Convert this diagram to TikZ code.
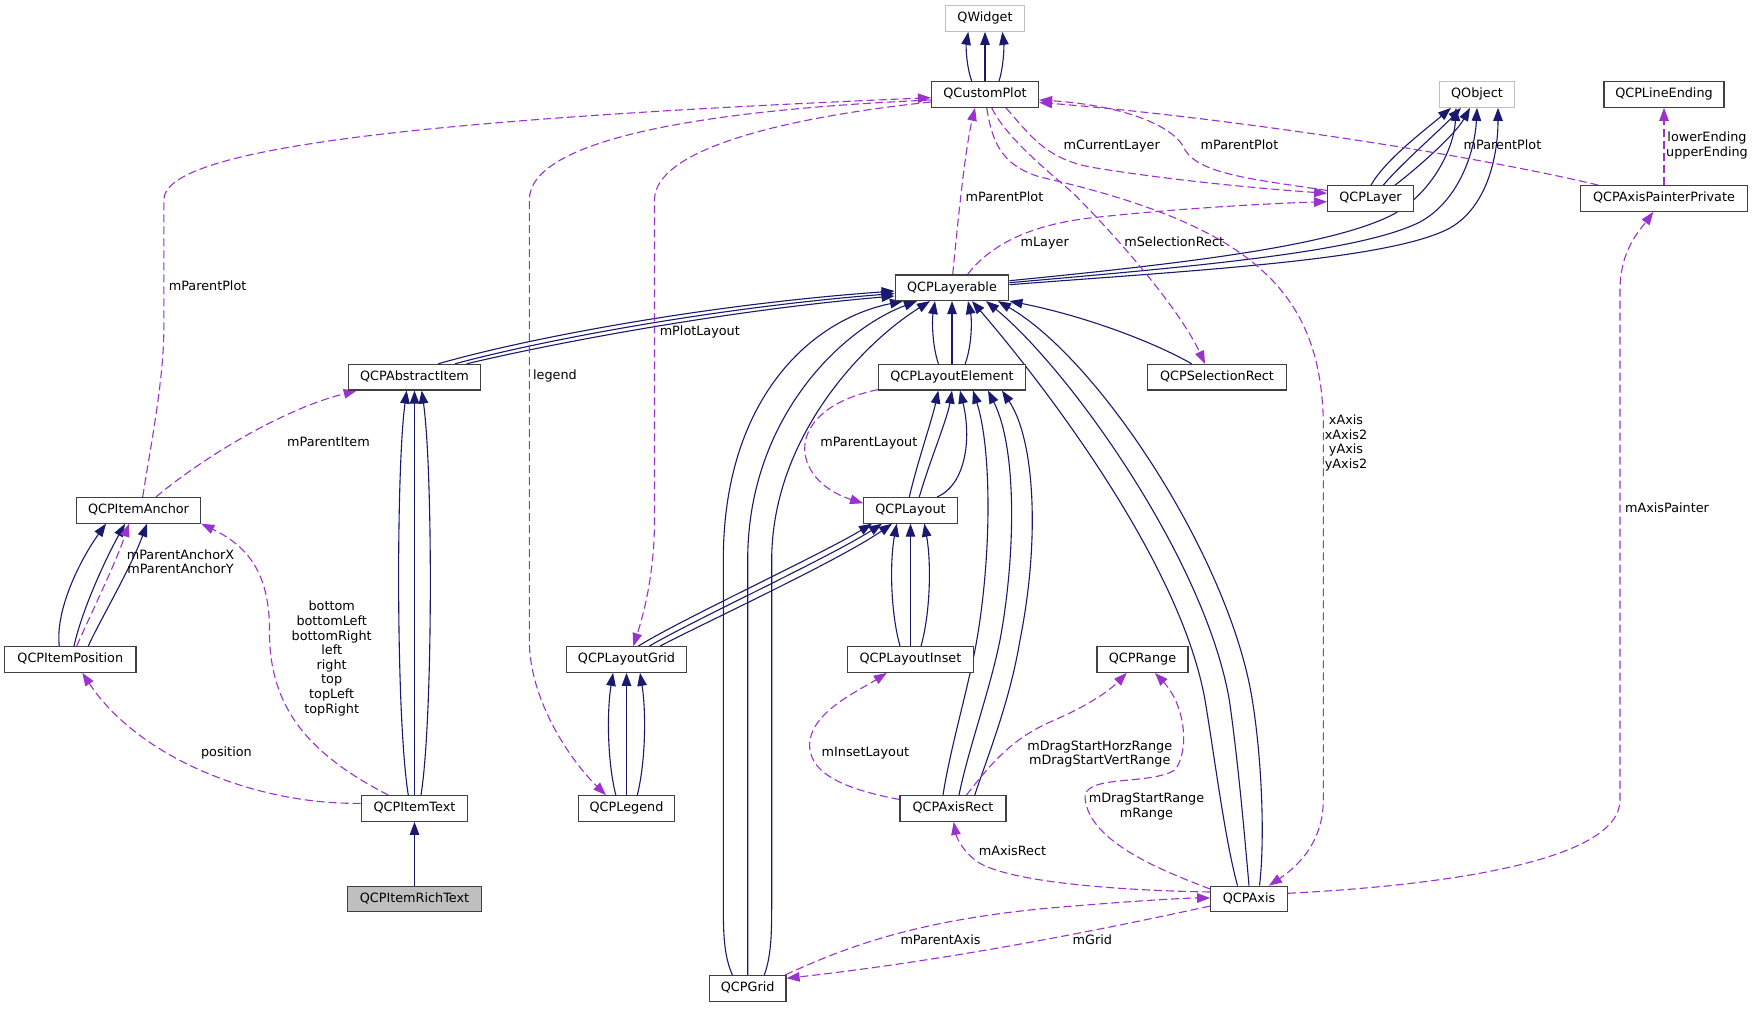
\documentclass[tikz,border=0pt]{standalone}
\usepackage{fontspec}
\setmainfont{DejaVu Sans}
\usetikzlibrary{arrows.meta,calc}
\definecolor{navyline}{HTML}{191970}
\definecolor{orchid}{HTML}{9A32CD}
\definecolor{greyborder}{HTML}{BFBFBF}
\definecolor{greyfill}{HTML}{BFBFBF}
\pgfdeclarelayer{bg}
\pgfsetlayers{bg,main}
\tikzset{
  cls/.style={draw=black!75, line width=1.2pt, fill=white, inner xsep=0pt, inner ysep=0pt,
    minimum height=25.6pt, text height=9.6pt, text depth=3pt,
    font=\fontsize{12.8}{14.6}\selectfont},
  extcls/.style={cls, draw=greyborder},
  inh/.style={draw=navyline, line width=1.1pt, -{Triangle[length=13pt,width=9.5pt]}},
  uses/.style={draw=orchid, line width=1.1pt, dash pattern=on 8pt off 4pt,
    -{Triangle[length=13pt,width=9.5pt]}},
  lbl/.style={inner sep=0pt, text height=9.6pt, text depth=3pt, font=\fontsize{12.8}{14.6}\selectfont},
  mlbl/.style={inner sep=0pt, align=center, font=\fontsize{12.8}{14.6}\selectfont}
}
\begin{document}
\begin{tikzpicture}[x=1pt,y=-1pt]
\useasboundingbox (0,0) rectangle (1755,1009);
% nodes
\node[extcls, minimum width=79pt] (qwidget) at (985,18.5) {QWidget};
\node[cls, minimum width=107pt] (qcustomplot) at (985,94.5) {QCustomPlot};
\node[extcls, minimum width=75pt] (qobject) at (1477,94.5) {QObject};
\node[cls, minimum width=120pt] (qcplineending) at (1664,94.5) {QCPLineEnding};
\node[cls, minimum width=85.7pt] (qcplayer) at (1370.5,198.5) {QCPLayer};
\node[cls, minimum width=167pt] (qcpaxispainter) at (1664,198.5) {QCPAxisPainterPrivate};
\node[cls, minimum width=113.7pt] (qcplayerable) at (952,287.7) {QCPLayerable};
\node[cls, minimum width=132.4pt] (qcpabstractitem) at (414.5,377.2) {QCPAbstractItem};
\node[cls, minimum width=146.7pt] (qcplayoutelement) at (952,377.2) {QCPLayoutElement};
\node[cls, minimum width=139pt] (qcpselectionrect) at (1217,377.2) {QCPSelectionRect};
\node[cls, minimum width=124.4pt] (qcpitemanchor) at (138.5,510.3) {QCPItemAnchor};
\node[cls, minimum width=93.6pt] (qcplayout) at (910.5,510.3) {QCPLayout};
\node[cls, minimum width=131.3pt] (qcpitemposition) at (70.3,659.5) {QCPItemPosition};
\node[cls, minimum width=120.4pt] (qcplayoutgrid) at (626.5,659.5) {QCPLayoutGrid};
\node[cls, minimum width=125.6pt] (qcplayoutinset) at (910.5,659.5) {QCPLayoutInset};
\node[cls, minimum width=91pt] (qcprange) at (1142.5,659.5) {QCPRange};
\node[cls, minimum width=106.5pt] (qcpitemtext) at (414.5,808.5) {QCPItemText};
\node[cls, minimum width=95.7pt] (qcplegend) at (626.5,808.5) {QCPLegend};
\node[cls, minimum width=106pt] (qcpaxisrect) at (953,808.5) {QCPAxisRect};
\node[cls, minimum width=134.6pt, fill=greyfill] (qcpitemrichtext) at (414.5,899) {QCPItemRichText};
\node[cls, minimum width=76.5pt] (qcpaxis) at (1249,899) {QCPAxis};
\node[cls, minimum width=76.6pt] (qcpgrid) at (747.7,988.3) {QCPGrid};

\begin{pgfonlayer}{bg}
\fill[white] (0,0) rectangle (1755,1009);
% ---------- inheritance ----------
% QCustomPlot -> QWidget
\draw[inh] ($(qcustomplot.north)+(-13.3,0)$) .. controls (966,65) and (966,45) .. ($(qwidget.south)+(-16.7,0)$);
\draw[inh] (qcustomplot.north) -- (qwidget.south);
\draw[inh] ($(qcustomplot.north)+(14,0)$) .. controls (1004,65) and (1004,45) .. ($(qwidget.south)+(17.3,0)$);
% QCPLayer -> QObject
\draw[inh] ($(qcplayer.north)+(0.5,0)$) .. controls (1385,160) and (1425,130) .. ($(qobject.south)+(-26,0)$);
\draw[inh] ($(qcplayer.north)+(12.8,0)$) .. controls (1400,165) and (1440,130) .. ($(qobject.south)+(-16,0)$);
\draw[inh] ($(qcplayer.north)+(24.5,0)$) .. controls (1415,170) and (1455,135) .. ($(qobject.south)+(-7,0)$);
% QCPLayerable -> QObject
\draw[inh] ($(qcplayerable.east)+(0,-7)$) .. controls (1200,262) and (1330,245) .. (1390,216) .. controls (1430,196) and (1454,150) .. ($(qobject.south)+(-21,0)$);
\draw[inh] ($(qcplayerable.east)+(0,-5)$) .. controls (1200,266) and (1360,252) .. (1420,222) .. controls (1460,200) and (1475,150) .. (qobject.south);
\draw[inh] ($(qcplayerable.east)+(0,-3)$) .. controls (1200,270) and (1390,260) .. (1450,228) .. controls (1490,205) and (1498,150) .. ($(qobject.south)+(21,0)$);
% QCPAbstractItem -> QCPLayerable
\draw[inh] ($(qcpabstractitem.north)+(23.8,0)$) .. controls (520,340) and (700,305) .. ($(qcplayerable.west)+(0,3.3)$);
\draw[inh] ($(qcpabstractitem.north)+(40.5,0)$) .. controls (535,342) and (710,308) .. ($(qcplayerable.west)+(0,5.8)$);
\draw[inh] ($(qcpabstractitem.north)+(52.2,0)$) .. controls (545,345) and (720,311) .. ($(qcplayerable.west)+(0,8.3)$);
% QCPLayoutElement -> QCPLayerable
\draw[inh] ($(qcplayoutelement.north)+(-13.6,0)$) .. controls (932,345) and (932,320) .. ($(qcplayerable.south)+(-17,0)$);
\draw[inh] (qcplayoutelement.north) -- (qcplayerable.south);
\draw[inh] ($(qcplayoutelement.north)+(13.2,0)$) .. controls (972,345) and (972,320) .. ($(qcplayerable.south)+(16,0)$);
% QCPSelectionRect -> QCPLayerable
\draw[inh] ($(qcpselectionrect.north)+(-25.3,0)$) .. controls (1150,340) and (1080,315) .. (qcplayerable.south east);
% QCPGrid -> QCPLayerable
\draw[inh] ($(qcpgrid.north)+(-15.3,0)$) .. controls (723.3,955) and (723.3,930) .. (723.3,900) -- (723.3,560) .. controls (723.3,400) and (810,320) .. ($(qcplayerable.south)+(-49,0)$);
\draw[inh] (qcpgrid.north) -- (747.7,560) .. controls (747.7,420) and (840,330) .. ($(qcplayerable.south)+(-35,0)$);
\draw[inh] ($(qcpgrid.north)+(16.6,0)$) .. controls (771.7,955) and (771.7,930) .. (771.7,900) -- (771.7,560) .. controls (771.7,440) and (860,345) .. ($(qcplayerable.south)+(-22,0)$);
% QCPAxis -> QCPLayerable
\draw[inh] ($(qcpaxis.north)+(-11.5,0)$) .. controls (1225,840) and (1215,760) .. (1205,700) .. controls (1180,560) and (1040,380) .. ($(qcplayerable.south)+(20,0)$);
\draw[inh] (qcpaxis.north) .. controls (1245,840) and (1238,760) .. (1229.3,700) .. controls (1205,560) and (1070,370) .. ($(qcplayerable.south)+(34,0)$);
\draw[inh] ($(qcpaxis.north)+(10.5,0)$) .. controls (1265,840) and (1262,760) .. (1252.3,700) .. controls (1230,560) and (1100,360) .. ($(qcplayerable.south)+(46,0)$);
% QCPLayout -> QCPLayoutElement
\draw[inh] ($(qcplayout.north)+(-1.2,0)$) .. controls (918,460) and (932,420) .. ($(qcplayoutelement.south)+(-13.7,0)$);
\draw[inh] ($(qcplayout.north)+(8.8,0)$) .. controls (930,460) and (947,420) .. (qcplayoutelement.south);
\draw[inh] ($(qcplayout.north)+(26.8,0)$) .. controls (965,485) and (972,440) .. ($(qcplayoutelement.south)+(8,0)$);
% QCPAxisRect -> QCPLayoutElement
\draw[inh] ($(qcpaxisrect.north)+(-10,0)$) .. controls (950,750) and (965,700) .. (975,650) .. controls (992,560) and (992,450) .. ($(qcplayoutelement.south)+(21,0)$);
\draw[inh] ($(qcpaxisrect.north)+(6,0)$) .. controls (968,750) and (990,690) .. (1000,640) .. controls (1015,560) and (1018,450) .. ($(qcplayoutelement.south)+(36,0)$);
\draw[inh] ($(qcpaxisrect.north)+(21.7,0)$) .. controls (990,750) and (1010,700) .. (1020,640) .. controls (1040,540) and (1035,440) .. ($(qcplayoutelement.south)+(50,0)$);
% QCPLayoutGrid -> QCPLayout
\draw[inh] ($(qcplayoutgrid.north)+(11.8,0)$) .. controls (680,620) and (820,555) .. ($(qcplayout.south)+(-38.5,0)$);
\draw[inh] ($(qcplayoutgrid.north)+(22.8,0)$) .. controls (690,622) and (830,557) .. ($(qcplayout.south)+(-28.5,0)$);
\draw[inh] ($(qcplayoutgrid.north)+(33.5,0)$) .. controls (700,625) and (840,560) .. ($(qcplayout.south)+(-18.5,0)$);
% QCPLayoutInset -> QCPLayout
\draw[inh] ($(qcplayoutinset.north)+(-10.5,0)$) .. controls (890,610) and (890,560) .. ($(qcplayout.south)+(-13.8,0)$);
\draw[inh] (qcplayoutinset.north) -- (qcplayout.south);
\draw[inh] ($(qcplayoutinset.north)+(10.5,0)$) .. controls (931,610) and (931,560) .. ($(qcplayout.south)+(13.8,0)$);
% QCPLegend -> QCPLayoutGrid
\draw[inh] ($(qcplegend.north)+(-10.7,0)$) .. controls (607,760) and (607,710) .. ($(qcplayoutgrid.south)+(-13.4,0)$);
\draw[inh] (qcplegend.north) -- (qcplayoutgrid.south);
\draw[inh] ($(qcplegend.north)+(10.8,0)$) .. controls (646,760) and (646,710) .. ($(qcplayoutgrid.south)+(13.5,0)$);
% QCPItemText -> QCPAbstractItem
\draw[inh] ($(qcpitemtext.north)+(-6.2,0)$) .. controls (396,720) and (396,470) .. ($(qcpabstractitem.south)+(-7.8,0)$);
\draw[inh] (qcpitemtext.north) -- (qcpabstractitem.south);
\draw[inh] ($(qcpitemtext.north)+(6.5,0)$) .. controls (433,720) and (433,470) .. ($(qcpabstractitem.south)+(7.2,0)$);
% QCPItemRichText -> QCPItemText
\draw[inh] (qcpitemrichtext.north) -- (qcpitemtext.south);
% QCPItemPosition -> QCPItemAnchor
\draw[inh] ($(qcpitemposition.north)+(-11,0)$) .. controls (55,610) and (80,560) .. ($(qcpitemanchor.south)+(-32.5,0)$);
\draw[inh] ($(qcpitemposition.north)+(3.7,0)$) .. controls (82,610) and (105,560) .. ($(qcpitemanchor.south)+(-13.5,0)$);
\draw[inh] ($(qcpitemposition.north)+(18,0)$) .. controls (100,620) and (130,570) .. ($(qcpitemanchor.south)+(8.5,0)$);

% ---------- usage ----------
\draw[uses] ($(qcpitemposition.north)+(6.4,0)$) .. controls (88,620) and (115,565) .. ($(qcpitemanchor.south)+(-9.5,0)$);
\draw[uses] ($(qcpitemanchor.north)+(4.2,0)$) .. controls (150,450) and (163.8,380) .. (163.8,330) -- (163.8,200) .. controls (163.8,150) and (400,120) .. ($(qcustomplot.west)+(0,3.2)$);
\draw[uses] ($(qcpitemanchor.north)+(17.5,0)$) .. controls (200,460) and (280,410) .. ($(qcpabstractitem.south)+(-57.8,0)$);
\draw[uses] ($(qcpitemtext.west)+(0,-5.2)$) .. controls (260,805) and (140,760) .. ($(qcpitemposition.south)+(12,0)$);
\draw[uses] ($(qcpitemtext.north)+(-26.1,0)$) .. controls (300,750) and (269,700) .. (269.5,630) .. controls (269.5,570) and (245,545) .. (qcpitemanchor.south east);
\draw[uses] ($(qcustomplot.west)+(0,5.5)$) .. controls (700,110) and (529.3,140) .. (529.3,200) -- (529.3,640) .. controls (529.3,700) and (570,760) .. ($(qcplegend.north)+(-20.5,0)$);
\draw[uses] ($(qcustomplot.west)+(0,7.5)$) .. controls (780,118) and (654.5,150) .. (654.5,200) -- (654.5,520) .. controls (654.5,570) and (645,610) .. ($(qcplayoutgrid.north)+(6.8,0)$);
\draw[uses] ($(qcplayerable.north)+(0.7,0)$) .. controls (958,220) and (965,150) .. ($(qcustomplot.south)+(-10,0)$);
\draw[uses] ($(qcplayerable.north)+(15.7,0)$) .. controls (990,245) and (1030,225) .. (1090,218) .. controls (1180,208) and (1280,203) .. ($(qcplayer.west)+(0,3.2)$);
\draw[uses] ($(qcustomplot.south)+(21,0)$) .. controls (1030,135) and (1045,158) .. (1090,167) .. controls (1180,182) and (1280,190) .. ($(qcplayer.west)+(0,-5.2)$);
\draw[uses] ($(qcplayer.west)+(0,-8)$) .. controls (1260,180) and (1200,175) .. (1185,150) .. controls (1175,125) and (1120,105) .. ($(qcustomplot.east)+(0,5.5)$);
\draw[uses] ($(qcustomplot.south)+(6.7,0)$) .. controls (1005,135) and (1040,165) .. (1073,193) .. controls (1120,240) and (1180,310) .. ($(qcpselectionrect.north)+(-12,0)$);
\draw[uses] ($(qcustomplot.south)+(1.7,0)$) .. controls (992,140) and (1000,165) .. (1040,177) .. controls (1250,225) and (1320,290) .. (1323.3,420) -- (1323.3,800) .. controls (1323.3,840) and (1300,865) .. ($(qcpaxis.north)+(20,0)$);
\draw[uses] ($(qcpaxispainter.north)+(-65.7,0)$) .. controls (1450,150) and (1200,115) .. ($(qcustomplot.east)+(0,8)$);
\draw[uses] (qcpaxispainter.north) -- (qcplineending.south);
\draw[uses] ($(qcpaxis.east)+(0,-5.7)$) .. controls (1450,885) and (1620,860) .. (1620,800) -- (1620,290) .. controls (1620,250) and (1640,230) .. ($(qcpaxispainter.south)+(-10.7,0)$);
\draw[uses] ($(qcplayoutelement.south west)+(0,-1)$) .. controls (780,410) and (790,480) .. ($(qcplayout.west)+(0,-7)$);
\draw[uses] ($(qcpaxisrect.west)+(0,-9)$) .. controls (850,790) and (805,775) .. (810,740) .. controls (815,710) and (860,690) .. ($(qcplayoutinset.south)+(-23.7,0)$);
\draw[uses] ($(qcpaxisrect.north)+(13.4,0)$) .. controls (990,765) and (1010,740) .. (1050,722) .. controls (1090,705) and (1110,690) .. ($(qcprange.south)+(-15.8,0)$);
\draw[uses] ($(qcpaxis.west)+(0,-10)$) .. controls (1160,870) and (1085,840) .. (1085,795) .. controls (1090,775) and (1150,785) .. (1175,770) .. controls (1190,750) and (1185,705) .. ($(qcprange.south)+(12.5,0)$);
\draw[uses] ($(qcpaxis.west)+(0,-7)$) .. controls (1100,890) and (1000,880) .. (975,860) .. controls (960,848) and (956,835) .. ($(qcpaxisrect.south)+(0.7,0)$);
\draw[uses] ($(qcpgrid.north east)+(-1.3,0)$) .. controls (850,945) and (920,920) .. (1050,908) .. controls (1120,902) and (1180,898) .. ($(qcpaxis.west)+(0,-1)$);
\draw[uses] ($(qcpaxis.west)+(0,7)$) .. controls (1100,930) and (950,960) .. ($(qcpgrid.east)+(0,-10)$);
\end{pgfonlayer}

% ---------- labels ----------
\node[lbl] (l1) at (207.6,287) {mParentPlot};
\node[lbl] (l2) at (328.5,442.7) {mParentItem};
\node[mlbl] (l3) at (180.5,561.7) {mParentAnchorX\\mParentAnchorY};
\node[lbl] (l4) at (226.4,753.3) {position};
\node[mlbl] (l5) at (331.7,658.5) {bottom\\bottomLeft\\bottomRight\\left\\right\\top\\topLeft\\topRight};
\node[lbl] (l6) at (555,376.5) {legend};
\node[lbl] (l7) at (699.8,331.7) {mPlotLayout};
\node[lbl] (l8) at (1004.5,197.7) {mParentPlot};
\node[lbl] (l9) at (1044.7,242.7) {mLayer};
\node[lbl] (l10) at (1111.7,145.7) {mCurrentLayer};
\node[lbl] (l11) at (1239.5,145.7) {mParentPlot};
\node[lbl] (l12) at (1174.2,242.7) {mSelectionRect};
\node[mlbl] (l13) at (1346,442.8) {xAxis\\xAxis2\\yAxis\\yAxis2};
\node[lbl] (l14) at (1502.5,145.7) {mParentPlot};
\node[mlbl] (l15) at (1707,145.5) {lowerEnding\\upperEnding};
\node[lbl] (l16) at (1667,509.3) {mAxisPainter};
\node[lbl] (l17) at (868.8,442.7) {mParentLayout};
\node[lbl] (l18) at (865.4,753.3) {mInsetLayout};
\node[mlbl] (l19) at (1099.7,754) {mDragStartHorzRange\\mDragStartVertRange};
\node[mlbl] (l20) at (1146.5,806.5) {mDragStartRange\\mRange};
\node[lbl] (l21) at (1012.5,852.4) {mAxisRect};
\node[lbl] (l22) at (940.5,941) {mParentAxis};
\node[lbl] (l23) at (1092.3,941) {mGrid};
\end{tikzpicture}
\end{document}
